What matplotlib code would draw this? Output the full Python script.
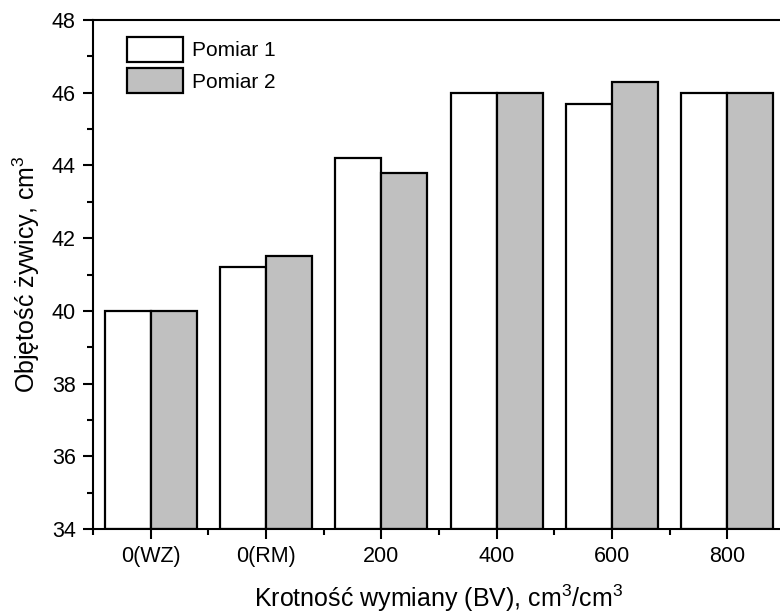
import numpy as np
import matplotlib
matplotlib.use('Agg')
import matplotlib.pyplot as plt
from matplotlib.ticker import MultipleLocator, FixedLocator

plt.rcParams['font.family'] = ['Liberation Sans', 'DejaVu Sans']
plt.rcParams['mathtext.fontset'] = 'custom'
plt.rcParams['mathtext.rm'] = 'Liberation Sans'
plt.rcParams['mathtext.default'] = 'regular'

# dane
kategorie = ['0(WZ)', '0(RM)', '200', '400', '600', '800']
pomiar1 = [40.0, 41.2, 44.2, 46.0, 45.7, 46.0]
pomiar2 = [40.0, 41.5, 43.8, 46.0, 46.3, 46.0]

fig = plt.figure(figsize=(7.8, 6.13), dpi=100, facecolor='white')
ax = fig.add_axes([93/780, 84/613, 692/780, 509/613])

x = np.arange(len(kategorie))
w = 0.4
ax.bar(x - w/2, np.array(pomiar1) - 34, w, bottom=34, color='white',
       edgecolor='black', linewidth=1.6, label='Pomiar 1', zorder=2)
ax.bar(x + w/2, np.array(pomiar2) - 34, w, bottom=34, color='#c0c0c0',
       edgecolor='black', linewidth=1.6, label='Pomiar 2', zorder=2)

ax.set_xlim(-0.5, len(kategorie) - 0.5)
ax.set_ylim(34, 48)
ax.set_xticks(x)
ax.set_xticklabels(kategorie)
ax.xaxis.set_minor_locator(FixedLocator(np.arange(-0.5, len(kategorie), 1.0)))
ax.yaxis.set_major_locator(MultipleLocator(2))
ax.yaxis.set_minor_locator(MultipleLocator(1))

for s in ax.spines.values():
    s.set_linewidth(1.5)
ax.tick_params(which='major', direction='out', length=7.5, width=1.5,
               labelsize=15.5, pad=5)
ax.tick_params(which='minor', direction='out', length=4.5, width=1.5)

ax.set_xlabel('Krotność wymiany (BV), cm$^3$/cm$^3$', fontsize=18, labelpad=11)
ax.set_ylabel('Objętość żywicy, cm$^3$', fontsize=18, labelpad=7)

ax.legend(loc='upper left', bbox_to_anchor=(127/780, 1 - 37/613),
          bbox_transform=fig.transFigure, frameon=False, fontsize=15,
          handlelength=2.7, handleheight=1.47, handletextpad=0.4,
          labelspacing=0.3, borderpad=0, borderaxespad=0)

fig.savefig('out.png', dpi=100)
